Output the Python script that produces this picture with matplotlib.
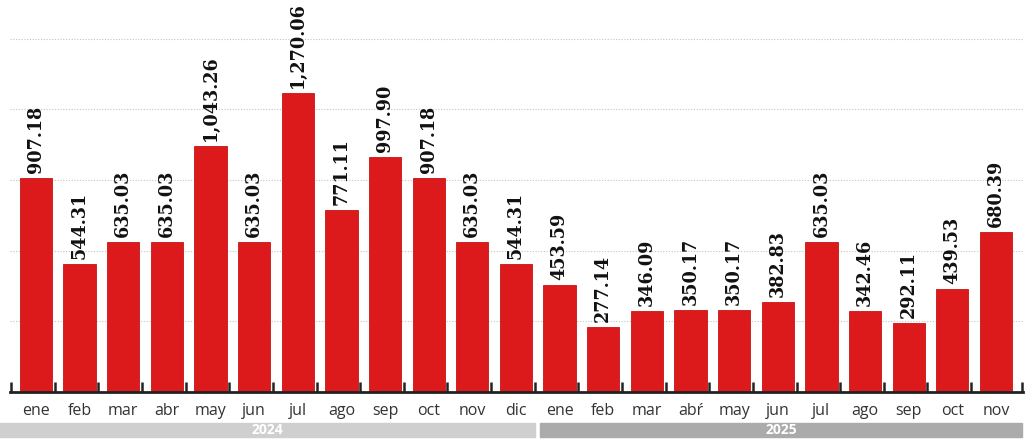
import matplotlib
matplotlib.use("Agg")
import matplotlib.pyplot as plt
from matplotlib.patches import Rectangle

months = ["ene", "feb", "mar", "abr", "may", "jun", "jul", "ago", "sep", "oct", "nov", "dic",
          "ene", "feb", "mar", "abŕ", "may", "jun", "jul", "ago", "sep", "oct", "nov"]
values = [907.18, 544.31, 635.03, 635.03, 1043.26, 635.03, 1270.06, 771.11, 997.90, 907.18, 635.03, 544.31,
          453.59, 277.14, 346.09, 350.17, 350.17, 382.83, 635.03, 342.46, 292.11, 439.53, 680.39]
years = ["2024", "2025"]
year_counts = [12, 11]
grid_levels = [300, 600, 900, 1200, 1500]

W, H = 1032, 444
fig = plt.figure(figsize=(W / 100, H / 100), dpi=100)
ax = fig.add_axes([10 / W, 52 / H, (1023 - 10) / W, (H - 52) / H])

x = list(range(len(values)))
ax.bar(x, values, width=0.74, color="#dc1a1c", edgecolor="#c81416", linewidth=0.6, zorder=2)

for xi, v in zip(x, values):
    ax.annotate(f"{v:,.2f}", (xi, v), xytext=(0, 5), textcoords="offset pixels",
                rotation=90, ha="center", va="bottom", fontsize=14, fontweight="heavy",
                family="DejaVu Serif", fontstretch="condensed", color="#111111")

ax.set_xlim(-0.596, 22.62)
ax.set_ylim(0, 1665)

for g in grid_levels:
    ax.axhline(g, color="#c4c4c4", linestyle=(0, (1, 1.5)), linewidth=0.8, zorder=1)

for s in ["top", "right", "left"]:
    ax.spines[s].set_visible(False)
ax.spines["bottom"].set_color("#222222")
ax.spines["bottom"].set_linewidth(2)

tick_pos = [i - 0.57 for i in range(len(values))] + [22.6]
ax.set_xticks(tick_pos)
ax.set_xticklabels([])
ax.tick_params(axis="x", direction="in", length=7, width=1.8, color="#222222")
ax.set_yticks([])

for xi, m in zip(x, months):
    ax.text(xi, -0.048, m, transform=ax.get_xaxis_transform(), ha="center", va="center",
            fontsize=11.5, family="Open Sans", color="#333333")

# year bands
band_specs = [(0, 535, "#cfcfcf"), (540, 1022, "#ababab")]
for (x0, x1, col), yr in zip(band_specs, years):
    fig.patches.append(Rectangle((x0 / W, 7 / H), (x1 - x0) / W, 14 / H,
                                 transform=fig.transFigure, color=col, zorder=0))
    fig.text((x0 + x1) / 2 / W, 14 / H, yr, ha="center", va="center", fontsize=10,
             fontweight="bold", color="white", family="Open Sans")

fig.savefig("out.png", dpi=100, facecolor="white")
